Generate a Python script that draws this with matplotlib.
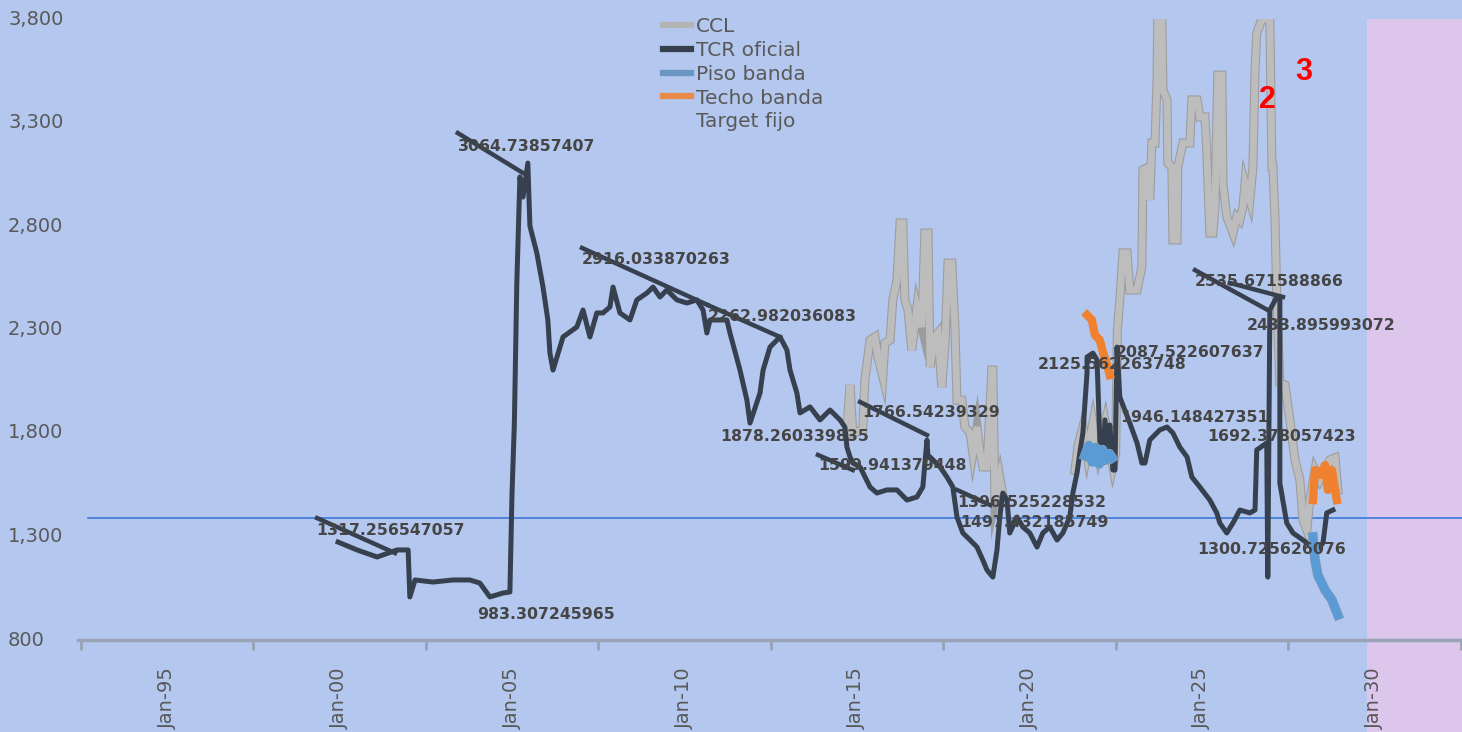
import matplotlib.pyplot as plt
import matplotlib.patheffects as pe
import numpy as np
from matplotlib.lines import Line2D

# TCR oficial (fecha decimal, valor)
tcr_x = [1999.96, 2000.51, 2001.09, 2001.67, 2001.99, 2002.04, 2002.19, 2002.71, 2003.29,
         2003.78, 2004.07, 2004.36, 2004.74, 2004.94, 2005.00, 2005.07, 2005.14, 2005.23,
         2005.32, 2005.46, 2005.52, 2005.72, 2005.90, 2006.04, 2006.10, 2006.19, 2006.48,
         2006.88, 2007.06, 2007.26, 2007.46, 2007.64, 2007.84, 2007.93, 2008.13, 2008.42,
         2008.62, 2008.91, 2009.09, 2009.29, 2009.49, 2009.78, 2010.07, 2010.36, 2010.54,
         2010.65, 2010.74, 2011.03, 2011.23, 2011.32, 2011.61, 2011.81, 2011.90, 2012.19,
         2012.28, 2012.48, 2012.77, 2012.97, 2013.06, 2013.26, 2013.35, 2013.64, 2013.93,
         2014.22, 2014.51, 2014.65, 2014.71, 2014.80, 2014.88, 2015.09, 2015.38, 2015.58,
         2015.87, 2016.16, 2016.45, 2016.74, 2016.91, 2017.03, 2017.06, 2017.12, 2017.41,
         2017.61, 2017.78, 2017.90, 2018.07, 2018.28, 2018.48, 2018.65, 2018.77, 2018.94,
         2019.06, 2019.14, 2019.23, 2019.35, 2019.43, 2019.64, 2019.81, 2020.01, 2020.22,
         2020.39, 2020.59, 2020.80, 2020.97, 2021.17, 2021.26, 2021.38, 2021.46, 2021.55,
         2021.67, 2021.67, 2021.84, 2021.96, 2022.04, 2022.13, 2022.19, 2022.28, 2022.33,
         2022.42, 2022.48, 2022.54, 2022.62, 2022.91, 2023.12, 2023.26, 2023.35, 2023.49,
         2023.78, 2023.99, 2024.16, 2024.36, 2024.57, 2024.71, 2024.94, 2025.23, 2025.43,
         2025.52, 2025.72, 2025.90, 2026.10, 2026.39, 2026.54, 2026.59, 2026.88, 2026.91,
         2026.97, 2027.17, 2027.26, 2027.26, 2027.46, 2027.64, 2027.93, 2028.33, 2028.51,
         2028.62, 2028.80]
tcr_y = [1273, 1235, 1201, 1235, 1235, 1008, 1090, 1080, 1090,
         1090, 1075, 1008, 1027, 1032, 1500, 1850, 2520, 3037,
         2940, 3104, 2800, 2670, 2505, 2346, 2186, 2104, 2264,
         2312, 2394, 2264, 2380, 2380, 2409, 2505, 2380, 2346,
         2443, 2476, 2505, 2457, 2491, 2443, 2428, 2443, 2394,
         2283, 2346, 2346, 2346, 2283, 2104, 1959, 1848, 1993,
         2104, 2215, 2264, 2201, 2104, 1993, 1897, 1926, 1863,
         1911, 1863, 1829, 1732, 1684, 1655, 1636, 1539, 1510,
         1525, 1525, 1476, 1491, 1539, 1766, 1684, 1684, 1636,
         1587, 1539, 1394, 1317, 1283, 1249, 1186, 1138, 1104,
         1235, 1394, 1510, 1476, 1317, 1394, 1346, 1317, 1249,
         1317, 1346, 1283, 1317, 1394, 1510, 1607, 1703, 1800,
         2090, 2167, 2186, 2153, 1766, 1655, 1863, 1670, 1839,
         1621, 1621, 2215, 1974, 1848, 1752, 1655, 1655, 1766,
         1815, 1829, 1800, 1732, 1684, 1587, 1539, 1476, 1414,
         1365, 1317, 1365, 1428, 1414, 1428, 1718, 1752, 1104,
         2394, 2457, 2457, 1558, 1365, 1317, 1283, 1235, 1269,
         1414, 1428]

# CCL
ccl_x = [2014.71, 2014.80, 2014.88, 2015.17, 2015.23, 2015.38, 2015.52, 2015.61, 2015.75,
         2015.81, 2015.96, 2016.04, 2016.16, 2016.25, 2016.33, 2016.39, 2016.48, 2016.59,
         2016.74, 2016.88, 2016.97, 2017.06, 2017.12, 2017.26, 2017.35, 2017.46, 2017.55,
         2017.64, 2017.75, 2017.84, 2017.90, 2018.04, 2018.13, 2018.28, 2018.36, 2018.48,
         2018.57, 2018.65, 2018.77, 2018.91, 2018.94, 2019.00, 2019.14, 2019.23, 2019.30,
         2021.32, 2021.41, 2021.55, 2021.67, 2021.84, 2022.00, 2022.20, 2022.42, 2022.50,
         2022.55, 2022.62, 2022.71, 2022.83, 2022.91, 2023.12, 2023.26, 2023.29, 2023.41,
         2023.49, 2023.55, 2023.64, 2023.70, 2023.72, 2023.84, 2023.87, 2023.99, 2024.01,
         2024.13, 2024.16, 2024.28, 2024.30, 2024.45, 2024.65, 2024.71, 2024.86, 2024.94,
         2025.09, 2025.14, 2025.23, 2025.32, 2025.38, 2025.46, 2025.58, 2025.61, 2025.72,
         2025.90, 2026.01, 2026.10, 2026.19, 2026.25, 2026.39, 2026.48, 2026.54, 2026.59,
         2026.74, 2026.97, 2027.03, 2027.06, 2027.12, 2027.17, 2027.26, 2027.41, 2027.55,
         2027.70, 2027.84, 2027.93, 2028.04, 2028.13, 2028.28, 2028.42, 2028.57, 2028.71,
         2028.86, 2028.94]
ccl_y = [1815, 2032, 1800, 1815, 2056, 2249, 2264, 2167, 2071,
         2235, 2249, 2443, 2539, 2815, 2815, 2443, 2394, 2201,
         2409, 2312, 2766, 2766, 2119, 2264, 2283, 2022, 2215,
         2621, 2621, 2312, 1959, 1959, 1829, 1800, 1703, 1829,
         1703, 1636, 1636, 2104, 2104, 1476, 1587, 1500, np.nan,
         1620, 1740, 1830, 1700, 1850, 1700, 1850, 1640, 1700,
         2300, 2443, 2670, 2670, 2491, 2491, 2602, 3071, 3080,
         2926, 3201, 3201, 3505, 3800, 3800, 3457, 3409, 3104,
         3085, 2733, 2733, 3085, 3201, 3201, 3409, 3409, 3327,
         3327, 3167, 2766, 2766, 2892, 3529, 3529, 3008, 2844,
         2766, 2844, 2829, 2892, 3008, 2926, 3085, 3554, 3732,
         3800, 3800, 3085, 3085, 2829, 2443, 2042, 2032, 1863,
         1670, 1573, 1380, 1331, 1476, 1621, 1573, 1621, 1670,
         1680, 1525]

# Piso banda (dos tramos)
piso_x = [2021.61, 2021.72, 2021.82, 2021.92, 2022.02, 2022.12, 2022.22, 2022.32, 2022.40, np.nan,
          2028.22, 2028.28, 2028.36, 2028.57, 2028.77, 2028.94]
piso_y = [1690, 1740, 1660, 1730, 1650, 1720, 1670, 1700, 1680, np.nan,
          1298, 1186, 1114, 1042, 993, 921]

# Techo banda (dos tramos)
techo_x = [2021.67, 2021.81, 2021.90, 2022.04, 2022.13, 2022.25, 2022.33, np.nan,
           2028.22, 2028.28, 2028.42, 2028.57, 2028.65, 2028.77, 2028.86, 2028.91]
techo_y = [2370, 2346, 2273, 2249, 2191, 2129, 2080, np.nan,
           1476, 1621, 1597, 1645, 1525, 1621, 1525, 1476]

# Etiquetas de datos: texto, posicion de la etiqueta
lbl_text = ['1317.256547057', '3064.73857407', '983.307245965', '2916.033870263',
            '2262.982036083', '1878.260339835', '1766.54239329', '1599.941379448',
            '1396.525228532', '1497.432185749', '2125.562263748', '2087.522607637',
            '1946.148427351', '2535.671588866', '2433.895993072', '1692.378057423',
            '1300.725626076']
lbl_x = [1999.32, 2003.43, 2003.99, 2007.03, 2010.68, 2011.03, 2015.14, 2013.87, 2017.90,
         2017.99, 2020.25, 2022.51, 2022.62, 2024.80, 2026.30, 2025.14, 2024.86]
lbl_y = [1327, 3182, 921, 2636, 2365, 1781, 1897, 1641, 1462,
         1370, 2129, 2191, 1873, 2534, 2317, 1781, 1235]

# Lineas guia de las etiquetas: desde (x0, y0) hasta (x1, y1)
lead_x0 = [1999.35, 2003.43, 2007.03, 2010.68, 2013.87, 2015.09, 2017.90, 2024.80, 2025.81]
lead_y0 = [1389, 3249, 2694, 2418, 1694, 1950, 1525, 2587, 2525]
lead_x1 = [2001.61, 2005.32, 2010.68, 2012.77, 2014.88, 2017.03, 2018.86, 2026.91, 2027.35]
lead_y1 = [1220, 3056, 2418, 2264, 1621, 1790, 1452, 2394, 2457]

ref_level = 1389          # linea horizontal azul
ref_start = 1992.71
shade_start = 2029.78     # zona rosa
y_ticks = [800, 1300, 1800, 2300, 2800, 3300, 3800]
x_years = [1995, 2000, 2005, 2010, 2015, 2020, 2025, 2030]
x_minor = [1992.5, 1997.5, 2002.5, 2007.5, 2012.5, 2017.5, 2022.5, 2027.5, 2032.5]

bg = '#B4C7EE'
dark = '#37404F'
label_col = '#595959'

fig = plt.figure(figsize=(14.62, 7.32), dpi=100, facecolor=bg)
ax = fig.add_axes([78 / 1462, 92 / 732, 1384 / 1462, 621 / 732])
ax.set_facecolor('none')
ax.set_xlim(1992.42, 2032.54)
ax.set_ylim(800, 3800)

# zona rosa (sale por debajo del eje)
ax.axvspan(shade_start, 2032.54, ymin=-0.16, ymax=1.0, color='#DCC6EC', zorder=0,
           clip_on=False, lw=0)

ax.plot([ref_start, 2032.54], [ref_level, ref_level], color='#3C78D8', lw=1.2,
        zorder=1, clip_on=False)

ccl_fx = [pe.Stroke(linewidth=6.5, foreground='#9C9C9C'), pe.Normal()]
ax.plot(ccl_x, ccl_y, color='#BDBDBD', lw=5, zorder=2, path_effects=ccl_fx,
        solid_joinstyle='miter')
ax.plot(tcr_x, tcr_y, color=dark, lw=3.6, zorder=3)

for x0, y0, x1, y1 in zip(lead_x0, lead_y0, lead_x1, lead_y1):
    ax.plot([x0, x1], [y0, y1], color=dark, lw=3.2, zorder=3)

ax.plot(piso_x, piso_y, color='#5B9BD5', lw=6, zorder=4,
        path_effects=[pe.Stroke(linewidth=7, foreground='#7F9BB8'), pe.Normal()])
ax.plot(techo_x, techo_y, color='#F0812E', lw=6, zorder=4)

for t, x, y in zip(lbl_text, lbl_x, lbl_y):
    ax.text(x, y, t, fontsize=11.3, fontweight='bold', color='#454545',
            ha='left', va='center', zorder=5)

ax.text(2026.91, 3409, '2', color='red', fontsize=22, fontweight='bold',
        family='Liberation Sans', ha='center', va='center', zorder=6)
ax.text(2027.95, 3544, '3', color='red', fontsize=22, fontweight='bold',
        family='Liberation Sans', ha='center', va='center', zorder=6)

# ejes
for s in ['left', 'right', 'top']:
    ax.spines[s].set_visible(False)
ax.spines['bottom'].set_color('#9AA3B5')
ax.spines['bottom'].set_linewidth(2.5)

# etiquetas del eje Y alineadas a la izquierda
ax.set_yticks(y_ticks)
ax.set_yticklabels([])
ax.tick_params(axis='y', length=0)
ytr = ax.get_yaxis_transform()
for v in y_ticks:
    ax.text(-70 / 1384, v, '{:,}'.format(v), transform=ytr, ha='left', va='center',
            fontsize=14, color=label_col, clip_on=False)

ax.set_xticks(x_years)
ax.set_xticklabels(['Jan-{:02d}'.format(y % 100) for y in x_years], rotation=90)
ax.set_xticks(x_minor, minor=True)
ax.tick_params(axis='x', which='major', length=0, pad=19.5, labelsize=14,
               labelcolor=label_col)
ax.tick_params(axis='x', which='minor', length=7, width=2, color='#9AA3B5')

handles = [
    Line2D([], [], color='#B4B4B4', lw=4.5),
    Line2D([], [], color=dark, lw=4.5),
    Line2D([], [], color='#6A96C4', lw=4.5),
    Line2D([], [], color='#E98A48', lw=4.5),
    Line2D([], [], color='none', lw=0),
]
names = ['CCL', 'TCR oficial', 'Piso banda', 'Techo banda', 'Target fijo']
fig.legend(handles, names, loc='upper left', bbox_to_anchor=(663 / 1462, 1 - 17 / 732),
           frameon=False, fontsize=14.5, labelcolor=label_col, handlelength=1.39,
           handletextpad=0.25, labelspacing=0.24, borderpad=0, borderaxespad=0)

fig.savefig('out.png', dpi=100, facecolor=bg)
